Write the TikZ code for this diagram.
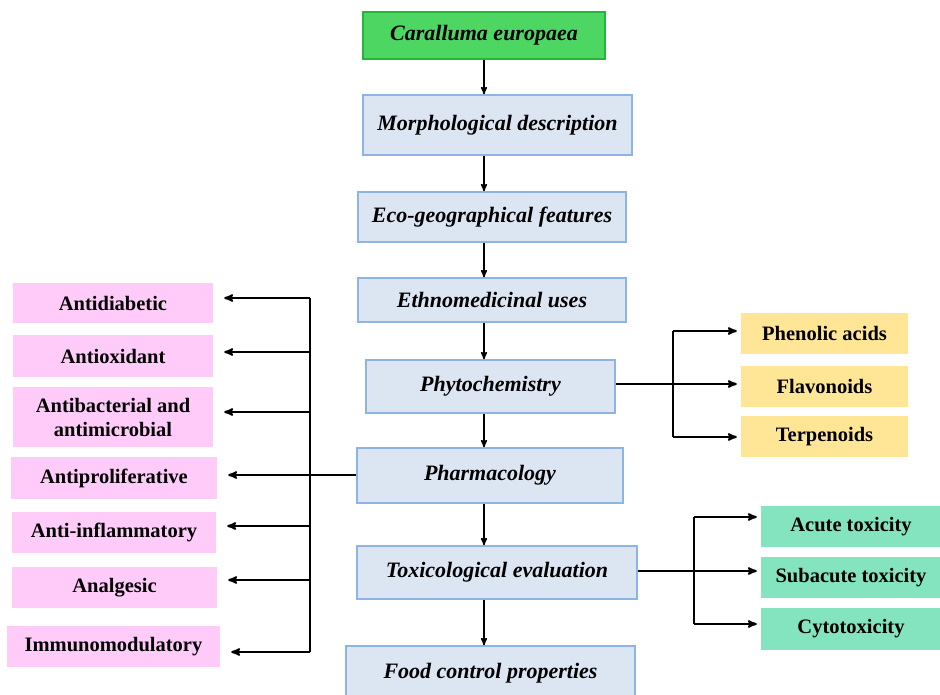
\documentclass[tikz,border=0pt]{standalone}
\usepackage{fontspec}
\setmainfont{Liberation Serif}
\definecolor{boxblue}{RGB}{220,230,242}
\definecolor{lineblue}{RGB}{142,180,227}
\definecolor{topgreen}{RGB}{78,214,98}
\definecolor{topgreenline}{RGB}{36,182,58}
\definecolor{pinkfill}{RGB}{255,204,250}
\definecolor{yellowfill}{RGB}{255,229,150}
\definecolor{mintfill}{RGB}{132,228,192}
\usetikzlibrary{calc,positioning,arrows}
\tikzset{
	>=stealth',
	mainbox/.style={
		rectangle,
		fill=boxblue,
		draw=lineblue, line width=1.6pt,
		font=\fontsize{22}{26}\selectfont\bfseries\itshape,
		text centered,
		inner sep=0pt},
	topbox/.style={mainbox, fill=topgreen, draw=topgreenline},
	sidebox/.style={
		rectangle,
		draw=none,
		font=\fontsize{20.5}{24}\selectfont\bfseries,
		align=center,
		inner sep=0pt},
	pinkbox/.style={sidebox, fill=pinkfill},
	yellowbox/.style={sidebox, fill=yellowfill},
	mintbox/.style={sidebox, fill=mintfill},
	line/.style={draw, line width=1.5pt, ->},
	branch/.style={draw, line width=2pt},
	twig/.style={branch, ->, shorten >=11pt},
}
\begin{document}
\begin{tikzpicture}[x=1pt, y=-1pt]
\useasboundingbox (0,0) rectangle (940,695);
% central column
\node[topbox, minimum width=242pt, minimum height=47pt] (cara) at (484,35.5) {Caralluma europaea};
\node[mainbox, minimum width=269pt, minimum height=60pt] (morph) at (497.5,125) {Morphological description};
\node[mainbox, minimum width=268pt, minimum height=50pt] (eco) at (492,217) {Eco-geographical features};
\node[mainbox, minimum width=268pt, minimum height=44pt] (ethno) at (492,300) {Ethnomedicinal uses};
\node[mainbox, minimum width=249pt, minimum height=53pt] (phyto) at (490.5,386.5) {Phytochemistry};
\node[mainbox, minimum width=266pt, minimum height=55pt] (pharm) at (490,475.5) {Pharmacology};
\node[mainbox, minimum width=280pt, minimum height=53pt] (tox) at (497,572.5) {Toxicological evaluation};
\node[mainbox, minimum width=289pt, minimum height=54pt] (food) at (490.5,673) {Food control properties};
\coordinate (spine) at (484,0);
\foreach \a/\b in {cara/morph, morph/eco, eco/ethno, ethno/phyto, phyto/pharm, pharm/tox, tox/food}
	\path[line] (\a.south -| spine) -- (\b.north -| spine);

% pharmacology
\node[pinkbox, minimum width=200pt, minimum height=40pt] (diab) at (113,303) {Antidiabetic};
\node[pinkbox, minimum width=200pt, minimum height=42pt] (oxi) at (113,356) {Antioxidant};
\node[pinkbox, minimum width=200pt, minimum height=60pt] (bact) at (113,417) {Antibacterial and\\antimicrobial};
\node[pinkbox, minimum width=206pt, minimum height=42pt] (prolif) at (114,478) {Antiproliferative};
\node[pinkbox, minimum width=204pt, minimum height=41pt] (inflam) at (114,532.5) {Anti-inflammatory};
\node[pinkbox, minimum width=205pt, minimum height=41pt] (analg) at (114.5,587.5) {Analgesic};
\node[pinkbox, minimum width=213pt, minimum height=41pt] (immuno) at (113.5,646.5) {Immunomodulatory};
\coordinate (lb1) at (310,298);
\coordinate (lb2) at (310,352);
\coordinate (lb3) at (310,412);
\coordinate (lb4) at (310,475);
\coordinate (lb5) at (310,526);
\coordinate (lb6) at (310,580);
\coordinate (lb7) at (310,652);
\path[branch] (lb1) -- (lb7);
\path[twig] (lb1) -- (lb1 -| diab.east);
\path[twig] (lb2) -- (lb2 -| oxi.east);
\path[twig] (lb3) -- (lb3 -| bact.east);
\path[twig] (lb4 -| pharm.west) -- (lb4 -| prolif.east);
\path[twig] (lb5) -- (lb5 -| inflam.east);
\path[twig] (lb6) -- (lb6 -| analg.east);
\path[twig] (lb7) -- (lb7 -| immuno.east);

% phytochemistry
\node[yellowbox, minimum width=167pt, minimum height=41pt] (phen) at (824.5,333.5) {Phenolic acids};
\node[yellowbox, minimum width=167pt, minimum height=41pt] (flav) at (824.5,386.5) {Flavonoids};
\node[yellowbox, minimum width=167pt, minimum height=41pt] (terp) at (824.5,436.5) {Terpenoids};
\coordinate (pb1) at (673,331);
\coordinate (pb2) at (673,384);
\coordinate (pb3) at (673,437);
\path[branch] (pb1) -- (pb3);
\path[branch] (pb2 -| phyto.east) -- (pb2);
\path[twig, shorten >=4pt] (pb1) -- (pb1 -| phen.west);
\path[twig, shorten >=4pt] (pb2) -- (pb2 -| flav.west);
\path[twig, shorten >=4pt] (pb3) -- (pb3 -| terp.west);

% toxicology
\node[mintbox, minimum width=180pt, minimum height=41pt] (acute) at (851,526.5) {Acute toxicity};
\node[mintbox, minimum width=180pt, minimum height=41pt] (subac) at (851,577.5) {Subacute toxicity};
\node[mintbox, minimum width=180pt, minimum height=42pt] (cyto) at (851,629) {Cytotoxicity};
\coordinate (tb1) at (694,517);
\coordinate (tb2) at (694,571);
\coordinate (tb3) at (694,624);
\path[branch] (tb1) -- (tb3);
\path[branch] (tb2 -| tox.east) -- (tb2);
\path[twig, shorten >=4pt] (tb1) -- (tb1 -| acute.west);
\path[twig, shorten >=4pt] (tb2) -- (tb2 -| subac.west);
\path[twig, shorten >=4pt] (tb3) -- (tb3 -| cyto.west);
\end{tikzpicture}
\end{document}
